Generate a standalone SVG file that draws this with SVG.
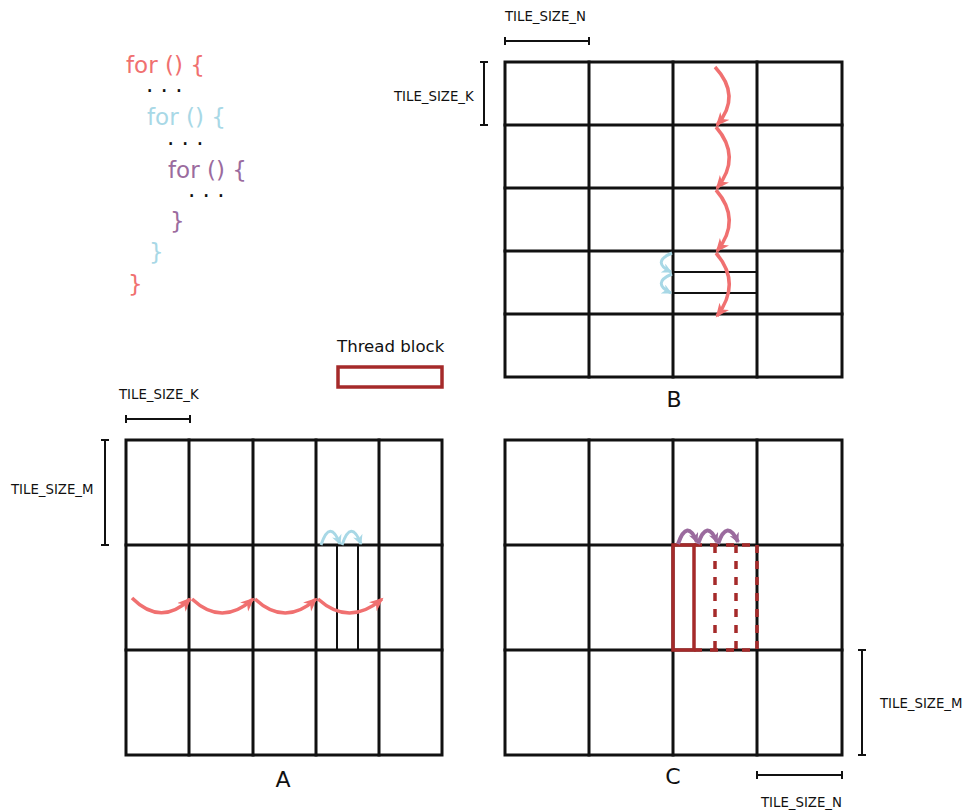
<svg xmlns="http://www.w3.org/2000/svg" width="963" height="812" viewBox="0 0 963 812">
<style>
text{font-family:"DejaVu Sans","Liberation Sans",sans-serif;}
.code{font-size:23px;}
.lbl{font-size:13.3px;fill:#111;}
.big{font-size:22px;fill:#111;}
.grid{stroke:#111;stroke-width:3;fill:none;stroke-linecap:square;}
.thin{stroke:#111;stroke-width:2;fill:none;}
.brk{stroke:#111;stroke-width:2;fill:none;}
.red{fill:#f07070;}
.blue{fill:#a8d8e6;}
.purple{fill:#9b6b9e;}
.ra{stroke:#f07070;stroke-width:3.5;fill:none;}
.ba{stroke:#a8d8e6;stroke-width:3;fill:none;}
.pa{stroke:#9b6b9e;stroke-width:4;fill:none;}
.tb{stroke:#a52a2a;stroke-width:3.5;fill:none;}
.tbd{stroke:#a52a2a;stroke-width:3.5;fill:none;stroke-dasharray:8,8;}
</style>
<defs>
<marker id="mr" markerUnits="userSpaceOnUse" markerWidth="16" markerHeight="14" refX="12" refY="6" orient="auto"><path d="M0,0 L14,6 L0,12 L4,6 z" fill="#f07070"/></marker>
<marker id="mb" markerUnits="userSpaceOnUse" markerWidth="12" markerHeight="12" refX="9" refY="5" orient="auto"><path d="M0,0 L10,5 L0,10 L3,5 z" fill="#a8d8e6"/></marker>
<marker id="mp" markerUnits="userSpaceOnUse" markerWidth="12" markerHeight="12" refX="9" refY="5" orient="auto"><path d="M0,0 L10,5 L0,10 L3,5 z" fill="#9b6b9e"/></marker>
</defs>

<g id="code">
<text class="code red" x="126" y="73">for () {</text>
<text class="code" x="146" y="99" fill="#111">· · ·</text>
<text class="code blue" x="147" y="125">for () {</text>
<text class="code" x="167" y="152" fill="#111">· · ·</text>
<text class="code purple" x="168" y="178">for () {</text>
<text class="code" x="188" y="204" fill="#111">· · ·</text>
<text class="code purple" x="170" y="229">}</text>
<text class="code blue" x="149" y="260">}</text>
<text class="code red" x="128" y="292">}</text>
</g>

<g id="legend">
<text x="337" y="352" font-size="16.6" fill="#111">Thread block</text>
<rect class="tb" x="338" y="367" width="104" height="20" stroke-width="4"/>
</g>

<g id="matrixB">
<rect class="grid" x="505" y="62" width="337" height="315"/>
<path class="grid" d="M589,62V377M673,62V377M757,62V377M505,125H842M505,188H842M505,251H842M505,314H842"/>
<path class="thin" d="M673,272H757M673,293H757"/>
<text class="big" x="674" y="407" text-anchor="middle">B</text>
<text class="lbl" x="505" y="21">TILE_SIZE_N</text>
<path class="brk" d="M505,41H589M505,37V45M589,37V45"/>
<text class="lbl" x="394" y="101">TILE_SIZE_K</text>
<path class="brk" d="M484,62V125M480,62H488M480,125H488"/>
</g>

<g id="matrixA">
<rect class="grid" x="126" y="440" width="316" height="315"/>
<path class="grid" d="M189,440V755M253,440V755M316,440V755M379,440V755M126,545H442M126,650H442"/>
<path class="thin" d="M337,545V650M358,545V650"/>
<text class="big" x="283" y="787" text-anchor="middle">A</text>
<text class="lbl" x="119" y="399">TILE_SIZE_K</text>
<path class="brk" d="M126,419H190M126,415V423M190,415V423"/>
<text class="lbl" x="11" y="494">TILE_SIZE_M</text>
<path class="brk" d="M105,440V545M101,440H109M101,545H109"/>
</g>

<g id="matrixC">
<rect class="grid" x="505" y="440" width="337" height="315"/>
<path class="grid" d="M589,440V755M673,440V755M757,440V755M505,545H842M505,650H842"/>
<rect class="tb" x="673" y="545" width="21" height="105"/>
<path class="tbd" d="M694,545H757M694,650H757M715,545V650M736,545V650M757,545V650"/>
<text class="big" x="673" y="784" text-anchor="middle">C</text>
<text class="lbl" x="880" y="708">TILE_SIZE_M</text>
<path class="brk" d="M862,650V755M858,650H866M858,755H866"/>
<text class="lbl" x="761" y="807">TILE_SIZE_N</text>
<path class="brk" d="M757,775H842M757,771V779M842,771V779"/>
</g>

<g id="connectors">
<path class="ra" marker-end="url(#mr)" d="M715,67 Q742,96 717,125"/>
<path class="ra" marker-end="url(#mr)" d="M716,127 Q742,157 717,188"/>
<path class="ra" marker-end="url(#mr)" d="M716,190 Q742,220 717,251"/>
<path class="ra" marker-end="url(#mr)" d="M716,253 Q742,283 717,316"/>
<path class="ra" marker-end="url(#mr)" d="M132,598 Q161,627 190,599"/>
<path class="ra" marker-end="url(#mr)" d="M192,599 Q222,627 253,599"/>
<path class="ra" marker-end="url(#mr)" d="M255,599 Q285,627 316,599"/>
<path class="ra" marker-end="url(#mr)" d="M318,599 Q349,627 382,599"/>
<path class="ba" marker-end="url(#mb)" d="M672,253 Q651,262 671,272"/>
<path class="ba" marker-end="url(#mb)" d="M672,274 Q651,283 671,293"/>
<path class="ba" marker-end="url(#mb)" d="M321,545 Q330,518 340,544"/>
<path class="ba" marker-end="url(#mb)" d="M342,545 Q351,518 361,544"/>
<path class="pa" marker-end="url(#mp)" d="M678,544 Q687,518 697,542"/>
<path class="pa" marker-end="url(#mp)" d="M698,544 Q707,518 717,542"/>
<path class="pa" marker-end="url(#mp)" d="M718,544 Q727,518 738,542"/>
</g>
</svg>
